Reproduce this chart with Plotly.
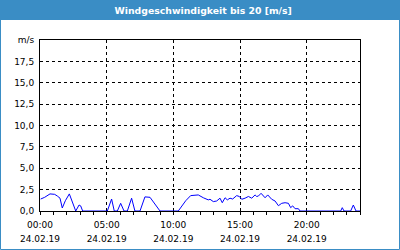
import plotly.graph_objects as go

# Data: hours since 24.02.19 00:00, wind speed in m/s
hours = [0.05, 0.35, 0.75, 1.1, 1.3, 1.5, 1.67, 1.9, 2.2, 2.45, 2.68, 2.93, 3.05, 3.2,
         5.05, 5.37, 5.57, 5.8, 6.05, 6.3, 6.55, 6.87, 7.12, 7.5, 7.87, 8.25, 8.55, 8.8, 9.0,
         10.37, 10.75, 10.93, 11.3, 11.63, 11.87, 12.25, 12.62, 12.75, 13.0, 13.25, 13.5,
         13.67, 13.88, 14.05, 14.25, 14.45, 14.75, 14.95, 15.13, 15.38, 15.63, 15.88, 16.13,
         16.25, 16.38, 16.58, 16.75, 16.88, 17.08, 17.25, 17.38, 17.63, 17.88, 18.13, 18.38,
         18.63, 18.8, 18.95, 19.13, 19.38, 19.5, 22.55, 22.67, 22.8, 23.3, 23.5, 23.7, 24.0]
speeds = [1.4, 1.6, 2.0, 1.95, 1.75, 1.5, 0.35, 1.2, 2.0, 1.0, 0.0, 0.7, 0.6, 0.0,
          0.0, 1.4, 0.0, 0.0, 0.9, 0.0, 0.0, 1.5, 0.0, 0.0, 1.65, 1.6, 0.95, 0.5, 0.0,
          0.0, 0.9, 1.2, 1.8, 1.8, 1.88, 1.55, 1.3, 1.37, 1.1, 1.17, 1.5,
          0.97, 1.55, 1.3, 1.5, 1.4, 1.8, 1.7, 1.37, 1.5, 1.7, 1.5, 1.88,
          1.7, 1.75, 2.07, 1.7, 1.55, 1.88, 1.55, 1.37, 1.17, 0.62, 0.9, 0.97,
          0.9, 0.39, 0.6, 0.27, 0.27, 0.0, 0.0, 0.39, 0.0, 0.0, 0.7, 0.0, 0.0]

x_tickvals = [0, 5, 10, 15, 20]
x_time_labels = ["00:00", "05:00", "10:00", "15:00", "20:00"]
x_date_labels = ["24.02.19"] * 5
y_tickvals = [0, 2.5, 5, 7.5, 10, 12.5, 15, 17.5, 20]
y_ticklabels = ["0,0", "2,5", "5,0", "7,5", "10,0", "12,5", "15,0", "17,5", "m/s"]
title_text = "Windgeschwindigkeit bis 20 [m/s]"

W, H = 400, 250
L, R, T, B = 40, 40, 40, 39
pw, ph = W - L - R, H - T - B

def px_x(p):
    return (p - L) / pw

def px_y(p):
    return (H - B - p) / ph

BLUE = "#3a8dc5"
FONT = "DejaVu Sans"

fig = go.Figure()
fig.add_trace(go.Scatter(x=hours, y=speeds, mode="lines",
                         line=dict(color="#0000ff", width=1), showlegend=False,
                         hoverinfo="skip"))
fig.add_trace(go.Scatter(x=[0, 24], y=[0, 0], xaxis="x2", mode="lines",
                         opacity=0, showlegend=False, hoverinfo="skip"))

fig.update_layout(
    width=W, height=H,
    margin=dict(l=L, r=R, t=T, b=B, pad=0, autoexpand=False),
    paper_bgcolor="white", plot_bgcolor="white",
    title=dict(text="<b>" + title_text + "</b>", x=0.51, xref="paper", xanchor="center",
               y=1 - 10.5 / H, yref="container", yanchor="middle",
               font=dict(family=FONT, size=9.3, color="white")),
    xaxis=dict(range=[0, 24], tickmode="array", tickvals=x_tickvals, ticktext=x_time_labels,
               showgrid=True, gridcolor="black", gridwidth=1, griddash="3px,3px",
               showline=True, linecolor="black", linewidth=1, mirror=True,
               ticks="outside", ticklen=3, tickcolor="black", tickwidth=1,
               minor=dict(tickmode="linear", tick0=0, dtick=1, ticks="outside", ticklen=3,
                          tickcolor="black", showgrid=False),
               ticklabelstandoff=2, automargin=False,
               tickfont=dict(family=FONT, size=9, color="black"),
               zeroline=False, fixedrange=True),
    xaxis2=dict(range=[0, 24], overlaying="x", side="bottom", anchor="y",
                tickmode="array", tickvals=x_tickvals, ticktext=x_date_labels,
                showgrid=False, showline=False, ticks="", zeroline=False,
                ticklabelstandoff=21, automargin=False,
                tickfont=dict(family=FONT, size=9, color="black")),
    yaxis=dict(range=[0, 20], tickmode="array", tickvals=y_tickvals, ticktext=y_ticklabels,
               showgrid=True, gridcolor="black", gridwidth=1, griddash="3px,3px",
               showline=True, linecolor="black", linewidth=1, mirror=True,
               ticks="", ticklabelstandoff=3, automargin=False,
               tickfont=dict(family=FONT, size=9, color="black"),
               zeroline=False, fixedrange=True),
    shapes=[
        dict(type="rect", xref="paper", yref="paper", layer="below",
             x0=px_x(0), x1=px_x(400), y0=px_y(20), y1=px_y(0),
             fillcolor=BLUE, line=dict(width=0)),
        dict(type="rect", xref="paper", yref="paper", layer="above",
             x0=px_x(0.5), x1=px_x(399.5), y0=px_y(249.5), y1=px_y(0.5),
             fillcolor="rgba(0,0,0,0)", line=dict(color=BLUE, width=1)),
    ],
)

fig.write_html("out.html")
